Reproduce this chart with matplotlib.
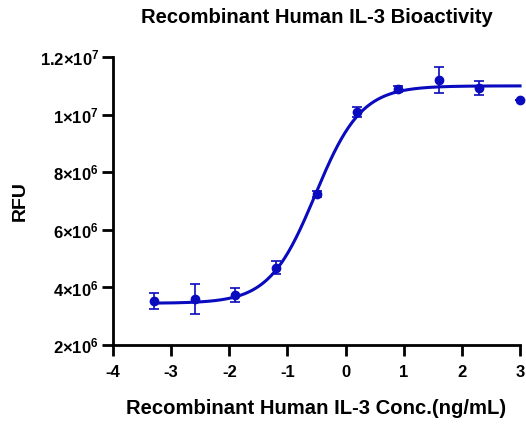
import numpy as np
import matplotlib
matplotlib.use('Agg')
import matplotlib.pyplot as plt

plt.rcParams['font.family'] = ['Liberation Sans', 'DejaVu Sans']
plt.rcParams['font.weight'] = 'bold'
plt.rcParams['mathtext.fontset'] = 'custom'
plt.rcParams['mathtext.rm'] = 'Liberation Sans:bold'
plt.rcParams['mathtext.it'] = 'Liberation Sans:bold'
plt.rcParams['mathtext.bf'] = 'Liberation Sans:bold'

# data: log10 concentration (ng/mL) vs RFU
log_conc = [-3.291, -2.592, -1.893, -1.194, -0.495, 0.204, 0.903, 1.602, 2.301, 3.0]
rfu = [3.53e6, 3.60e6, 3.74e6, 4.69e6, 7.24e6, 1.008e7, 1.088e7, 1.120e7, 1.093e7, 1.050e7]
rfu_err = [0.29e6, 0.52e6, 0.24e6, 0.23e6, 0.10e6, 0.17e6, 0.10e6, 0.45e6, 0.25e6, 0.0]

# 4PL fit parameters
fit_bottom = 3.45e6
fit_top = 1.10e7
fit_logec50 = -0.52
fit_hill = 1.1

yticks = [2e6, 4e6, 6e6, 8e6, 1e7, 1.2e7]
ytick_labels = [r'$2{\times}10^{6}$', r'$4{\times}10^{6}$', r'$6{\times}10^{6}$',
                r'$8{\times}10^{6}$', r'$1{\times}10^{7}$', r'$1.2{\times}10^{7}$']
xticks = [-4, -3, -2, -1, 0, 1, 2, 3]

color = '#0A0ABE'

fig = plt.figure(figsize=(5.26, 4.26), dpi=100)
ax = fig.add_axes([0.2148, 0.190, 0.7738, 0.676])

xs = np.linspace(log_conc[0], log_conc[-1], 300)
curve = fit_bottom + (fit_top - fit_bottom) / (1 + 10 ** ((fit_logec50 - xs) * fit_hill))
ax.plot(xs, curve, color=color, lw=2.2, clip_on=False, zorder=2)

ax.errorbar(log_conc, rfu, yerr=rfu_err, fmt='o', color=color, ms=6,
            elinewidth=1.2, capsize=3.5, capthick=1.2, clip_on=False, zorder=3)

ax.set_xlim(-4, 3)
ax.set_ylim(2e6, 1.2e7)
ax.set_xticks(xticks)
ax.set_xticklabels([str(t) for t in xticks])
ax.set_yticks(yticks)
ax.set_yticklabels(ytick_labels)

for s in ['top', 'right']:
    ax.spines[s].set_visible(False)
for s in ['left', 'bottom']:
    ax.spines[s].set_linewidth(2)
ax.tick_params(width=2, length=8, labelsize=12)
ax.tick_params(axis='x', pad=6)
ax.tick_params(axis='y', pad=2)
for lab in ax.get_xticklabels():
    lab.set_fontweight('bold')

fig.text(0.602, 0.958, 'Recombinant Human IL-3 Bioactivity', fontsize=14.6,
         fontweight='bold', ha='center', va='center')
fig.text(0.600, 0.042, 'Recombinant Human IL-3 Conc.(ng/mL)', fontsize=14.6,
         fontweight='bold', ha='center', va='center')
fig.text(0.038, 0.528, 'RFU', fontsize=14, fontweight='bold', rotation=90,
         ha='center', va='center')

fig.savefig('out.png', dpi=100)
